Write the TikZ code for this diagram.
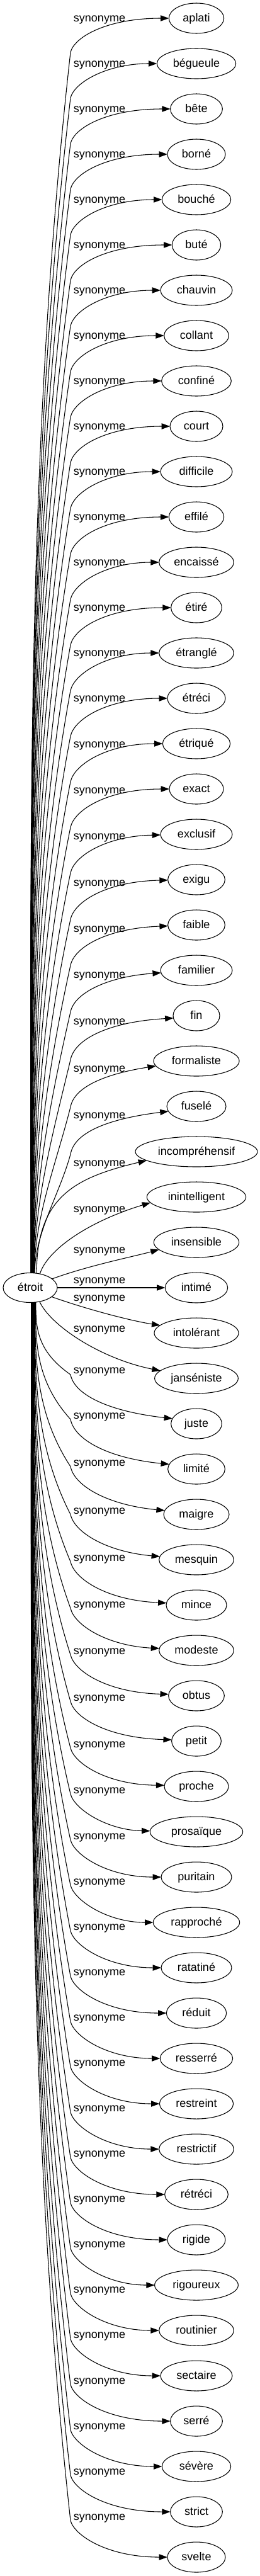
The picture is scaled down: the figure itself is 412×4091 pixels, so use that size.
\documentclass[tikz,border=0pt]{standalone}
\usepackage{fontspec}
\setmainfont{Liberation Sans}
\usetikzlibrary{arrows.meta,shapes.geometric}
\begin{document}
\begin{tikzpicture}[x=0.75pt,y=-0.75pt,
  word/.style={ellipse, draw, line width=0.8pt, inner sep=0pt, outer sep=0pt,
    minimum height=36pt, text height=9pt, text depth=1.5pt,
    font=\fontsize{13.5}{16}\selectfont},
  lbl/.style={anchor=base, inner sep=0pt, font=\fontsize{13.5}{16}\selectfont},
  syn/.style={line width=0.8pt, -{Triangle[length=10pt,width=7pt]}}]
\fill[white] (0,0) rectangle (412,4091);
\useasboundingbox (0,0) rectangle (412,4091);
\node[word, minimum width=64.5pt, minimum height=35.25pt] (etroit) at (48,2045) {étroit};

% upper edges
\foreach \i/\tx/\ww/\lo/\bo/\dy in {
0/aplati/87.3/1/54/0,
1/bégueule/125.3/1/54.4/0,
2/bête/82.7/1/54.8/0,
3/borné/92/1/55.2/0,
4/bouché/109.3/1/55.6/0,
5/buté/77.3/1/56/0,
6/chauvin/114/1/56.4/0,
7/collant/102.7/1/56.8/0,
8/confiné/110.7/1/57.2/0,
9/court/84/1/57.6/0,
10/difficile/114/1/58/0,
11/effilé/87.3/1/58.4/0,
12/encaissé/118.7/1/58.8/0,
13/étiré/80.7/1/59.2/0,
14/étranglé/118.7/1/59.6/0,
15/étréci/92/1.5/60/0,
16/étriqué/107.3/2/60.4/0,
17/exact/86/3/60.8/0,
18/exclusif/114/4/61.2/1,
19/exigu/90.7/6/63/1,
20/faible/90.7/7/64/2,
21/familier/114/8/66/4,
22/fin/74/10/70/4,
23/formaliste/136/13/73/8,
24/fuselé/94/15/76/8}{
  \pgfmathsetmacro\pY{29+72*\i}
  \pgfmathsetmacro\pW{0.75*\ww}
  \node[word, minimum width=\pW pt] (n\i) at (312,\pY) {\tx};
  \pgfmathsetmacro\pLY{\pY+\lo+4}
  \node[lbl] (l\i) at (158,\pLY) {synonyme};
  \pgfmathsetmacro\pU{\i/24}
  \pgfmathsetmacro\pSX{49+6*\pU*\pU}
  \pgfmathsetmacro\pSD{23.5*sqrt(1-((\pSX-48)/43)*((\pSX-48)/43))}
  \pgfmathsetmacro\pSY{2045-\pSD}
  \pgfmathsetmacro\pSA{atan2(\pSD,\pSX-48)}
  \pgfmathsetmacro\pYB{\pY+\bo}
  \pgfmathsetmacro\pLL{\pSY-\pYB}
  \pgfmathsetmacro\pCAY{\pSY-\pLL/3}
  \pgfmathsetmacro\pF{-0.15+0.85*\pU*\pU*sqrt(\pU)}
  \pgfmathsetmacro\pCBX{\pSX+\pF*(112-\pSX)}
  \pgfmathsetmacro\pCBY{\pYB+\pLL/3}
  \pgfmathsetmacro\pCCY{\pYB-0.45*\bo}
  \pgfmathsetmacro\pCDY{\pY+2.5*\dy}
  \pgfmathsetmacro\pEX{\ww/2*sqrt(1-(\dy/24)*(\dy/24))}
  \pgfmathsetmacro\pEA{180+atan2(\dy,\pEX)}
  \draw[syn] (etroit.\pSA) .. controls (\pSX,\pCAY) and (\pCBX,\pCBY) .. (112,\pYB)
     .. controls (118,\pCCY) and (170,\pCDY) .. (n\i.\pEA);
}

% lower edges
\foreach \i/\tx/\ww/\lo/\bo/\dy in {
31/juste/80.7/-84/-78/-8,
32/limité/90.7/-84/-79/-7,
33/maigre/104/-81/-76/-6,
34/mesquin/118.7/-77/-72/-5,
35/mince/96/-74/-69/-3,
36/modeste/118.7/-72/-67/-3,
37/obtus/88.7/-70/-65/-2,
38/petit/78.7/-68/-63/-2,
39/proche/102/-66/-61/-1,
40/prosaïque/147.3/-65/-60/-1,
41/puritain/112/-64/-59/0,
42/rapproché/137.3/-64/-59/0,
43/ratatiné/112/-63.5/-58.5/0,
44/réduit/95.3/-63.5/-58.5/0,
45/resserré/115.3/-63.5/-58.5/0,
46/restreint/117.3/-63.5/-58.5/0,
47/restrictif/118.7/-63.5/-58.5/0,
48/rétréci/100.7/-63.5/-58.5/0,
49/rigide/92/-63.5/-58.5/0,
50/rigoureux/132.7/-63.5/-58.5/0,
51/routinier/118.7/-63.5/-58.5/0,
52/sectaire/114/-63.5/-58.5/0,
53/serré/82.7/-63/-58/0,
54/sévère/109.3/-63/-58/0,
55/strict/82.7/-63/-58/0,
56/svelte/92/-63/-58/0}{
  \pgfmathsetmacro\pY{29+72*\i}
  \pgfmathsetmacro\pW{0.75*\ww}
  \node[word, minimum width=\pW pt] (n\i) at (312,\pY) {\tx};
  \pgfmathsetmacro\pLY{\pY+\lo+4}
  \node[lbl] (l\i) at (158,\pLY) {synonyme};
  \pgfmathsetmacro\pU{(56-\i)/25}
  \pgfmathsetmacro\pSX{50+7*\pU*\pU}
  \pgfmathsetmacro\pSD{23.5*sqrt(1-((\pSX-48)/43)*((\pSX-48)/43))}
  \pgfmathsetmacro\pSY{2045+\pSD}
  \pgfmathsetmacro\pSA{360-atan2(\pSD,\pSX-48)}
  \pgfmathsetmacro\pYB{\pY+\bo}
  \pgfmathsetmacro\pLL{\pYB-\pSY}
  \pgfmathsetmacro\pCAY{\pSY+\pLL/3}
  \pgfmathsetmacro\pF{-0.15+0.15*\pU}
  \pgfmathsetmacro\pCBX{\pSX+\pF*(112-\pSX)}
  \pgfmathsetmacro\pCBY{\pYB-\pLL/3}
  \pgfmathsetmacro\pCCY{\pYB-0.4*\bo}
  \pgfmathsetmacro\pCDY{\pY+2.5*\dy}
  \pgfmathsetmacro\pEX{\ww/2*sqrt(1-(\dy/24)*(\dy/24))}
  \pgfmathsetmacro\pEA{180+atan2(\dy,\pEX)}
  \draw[syn] (etroit.\pSA) .. controls (\pSX,\pCAY) and (\pCBX,\pCBY) .. (112,\pYB)
     .. controls (118,\pCCY) and (170,\pCDY) .. (n\i.\pEA);
}

% central edges
\node[word, minimum width=145.5pt] (n25) at (312,1829) {incompréhensif};
\node[word, minimum width=118pt] (n26) at (312,1901) {inintelligent};
\node[word, minimum width=101.5pt] (n27) at (312,1973) {insensible};
\node[word, minimum width=74.5pt] (n28) at (312,2045) {intimé};
\node[word, minimum width=100.5pt] (n29) at (312,2117) {intolérant};
\node[word, minimum width=99.5pt] (n30) at (312,2189) {janséniste};

\node[lbl] (l25) at (158,1852) {synonyme};
\node[lbl] (l26) at (158,1925) {synonyme};
\node[lbl] (l27) at (158,1990) {synonyme};
\node[lbl] (l28) at (158,2038) {synonyme};
\node[lbl] (l29) at (158,2066) {synonyme};
\node[lbl] (l30) at (158,2115) {synonyme};

\draw[syn] (etroit.66.4) .. controls (58,1900) and (120,1870) .. (n25.190.1);
\draw[syn] (etroit.55.75) .. controls (75,1985) and (140,1940) .. (n26.187.96);
\draw[syn] (etroit.22.9) .. controls (140,2010) and (210,1996) .. (n27.191.6);
\draw[syn] (etroit) -- (n28);
\draw[syn] (etroit.337.1) .. controls (140,2080) and (210,2098) .. (n29.168.3);
\draw[syn] (etroit.304.25) .. controls (80,2105) and (160,2158) .. (n30.168.2);
\end{tikzpicture}
\end{document}
